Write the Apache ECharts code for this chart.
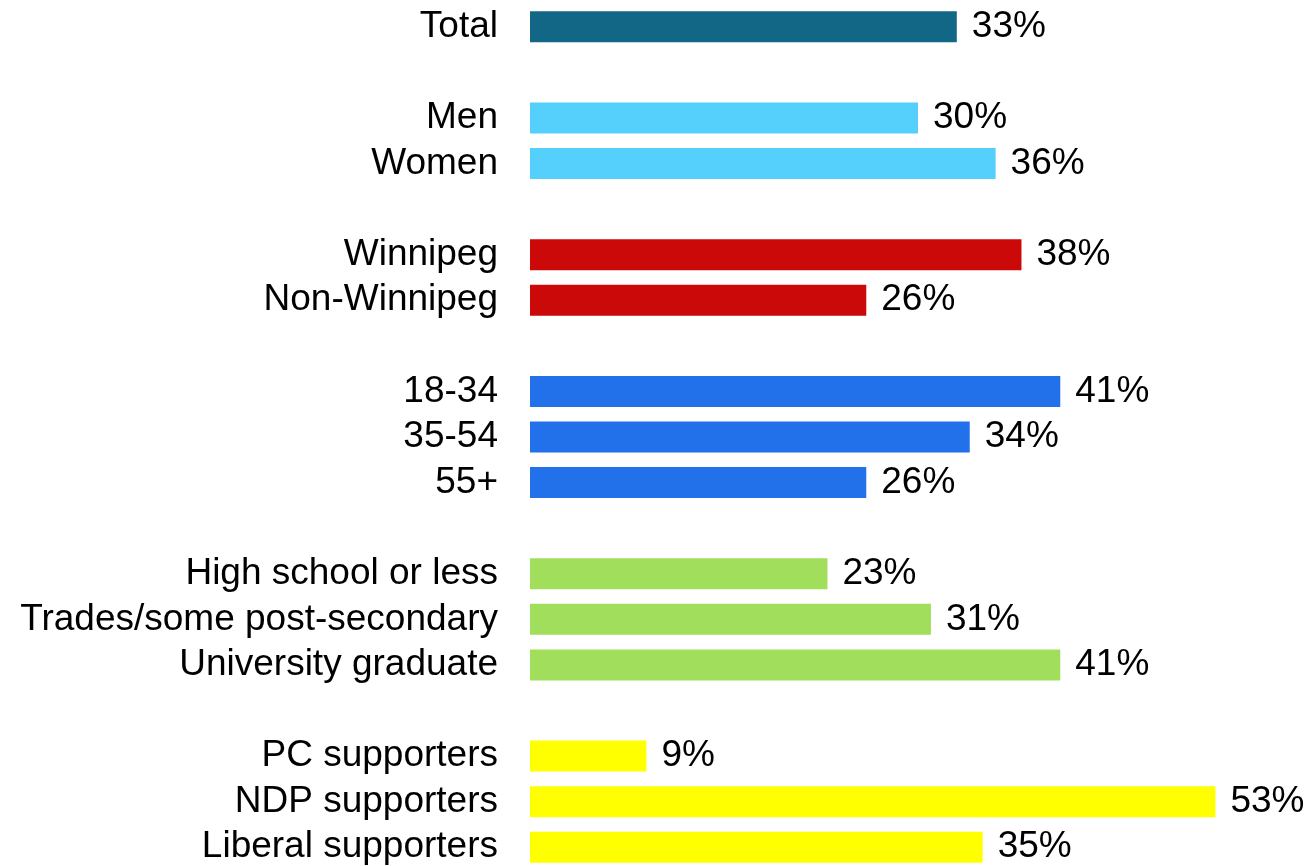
<!DOCTYPE html>
<html>
<head>
<meta charset="utf-8">
<script src="https://cdn.jsdelivr.net/npm/echarts@6/dist/echarts.min.js"></script>
<style>
html,body{margin:0;padding:0;background:#fff;}
#chart{width:1309px;height:866px;}
</style>
</head>
<body>
<div id="chart"></div>
<script>
// Data
const categories = ['Total', ' ', 'Men', 'Women', '  ', 'Winnipeg', 'Non-Winnipeg', '   ',
  '18-34', '35-54', '55+', '    ', 'High school or less', 'Trades/some post-secondary',
  'University graduate', '     ', 'PC supporters', 'NDP supporters', 'Liberal supporters'];
const values = [33, null, 30, 36, null, 38, 26, null, 41, 34, 26, null, 23, 31, 41, null, 9, 53, 35];
const groups = [0, -1, 1, 1, -1, 2, 2, -1, 3, 3, 3, -1, 4, 4, 4, -1, 5, 5, 5];

// Styles
const groupColors = ['#126786', '#55CFFB', '#CC0909', '#2371EA', '#A1DE5B', '#FFFF00'];
const FONT = '"Liberation Sans", Arial, sans-serif';

const chart = echarts.init(document.getElementById('chart'));
chart.setOption({
  animation: false,
  backgroundColor: '#ffffff',
  grid: { left: 530, top: 4, width: 776, height: 866, containLabel: false, outerBoundsMode: 'none' },
  xAxis: {
    type: 'value', min: 0, max: 60,
    show: false
  },
  yAxis: {
    type: 'category', data: categories, inverse: true,
    axisLine: { show: false }, axisTick: { show: false }, splitLine: { show: false },
    axisLabel: { interval: 0, margin: 32, color: '#000', fontSize: 37, fontFamily: FONT, padding: [3, 0, 0, 0] }
  },
  series: [{
    type: 'bar',
    barWidth: 31,
    data: values.map((v, i) => ({
      value: v,
      itemStyle: { color: groups[i] >= 0 ? groupColors[groups[i]] : 'transparent' }
    })),
    label: {
      show: true, position: 'right', distance: 15,
      formatter: p => p.value == null ? '' : p.value + '%',
      color: '#000', fontSize: 37, fontFamily: FONT, padding: [3, 0, 0, 0]
    }
  }]
});
</script>
</body>
</html>
